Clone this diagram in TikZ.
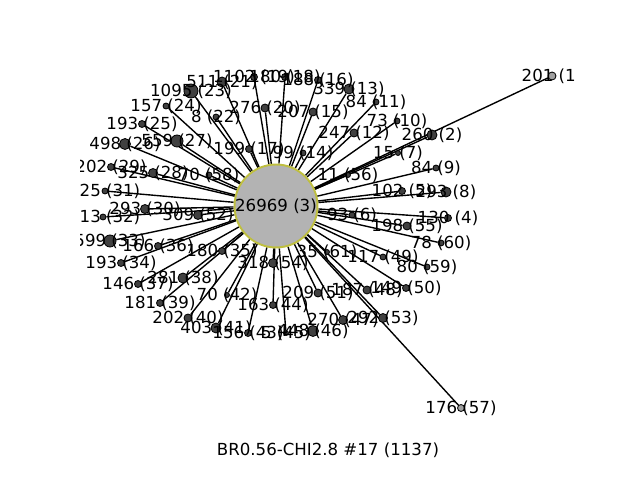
\documentclass[tikz,border=0pt]{standalone}
\usepackage{fontspec}
\setmainfont{DejaVu Sans}
\usetikzlibrary{backgrounds}
\definecolor{dotgray}{RGB}{64,64,64}
\definecolor{lightdotgray}{RGB}{160,160,160}
\definecolor{centerfill}{RGB}{179,179,179}
\definecolor{centeredge}{RGB}{191,191,64}
\begin{document}
\begin{tikzpicture}[x=0.01in,y=-0.01in,
  dot/.style={circle,draw=black,line width=0.6pt,fill=dotgray,inner sep=0pt},
  lightdot/.style={dot,fill=lightdotgray},
  hub/.style={circle,draw=centeredge,fill=centerfill,line width=1.4pt,inner sep=0pt,minimum size=82*0.7227pt,font=\fontsize{12}{14}\selectfont},
  lbl/.style={inner sep=0pt,font=\fontsize{12}{14}\selectfont},
  edge/.style={draw=black,line width=1pt}]
\useasboundingbox (0,0) rectangle (640,480);
\node[hub] (c) at (276,206) {26969 (3)};
\node[lightdot,minimum size=4*1.4454pt] (n1) at (552,76) {};
\node[lightdot,minimum size=3.5*1.4454pt] (n57) at (461,408) {};
\foreach \i/\x/\y/\r in {2/432/135/5, 4/448/218/3.5, 5/402/191/3.5, 6/352/215/3, 7/398/153/2.5,
  8/446/192/5, 9/436/168/3, 10/397/121/3, 11/376/102/3, 12/354/133/4, 13/349/89/5,
  14/303/153/3, 15/313/112/4, 16/318/80/3.5, 17/249/149/3.5, 18/285/77/3.5, 19/254/77/3.5,
  20/265/108/4, 21/222/82/5, 22/216/117/3, 23/191/91/7, 24/166/106/3, 25/142/124/3.5,
  26/125/144/5.5, 27/177/141/6, 28/153/173/4.5, 29/111/167/3.5, 30/145/209/4.5,
  31/105/191/3, 32/103/217/3, 33/110/241/6, 34/121/263/3.5, 35/222/251/3.5, 36/158/246/3.5,
  37/138/284/3.5, 38/183/278/5, 39/160/303/3.5, 40/188/318/4, 41/216/328/5, 42/227/295/2.5,
  43/248/333/3.5, 44/273/305/3.5, 45/286/333/2.5, 46/313/331/5.5, 47/343/320/4.5,
  48/367/290/4, 49/383/257/3, 50/406/288/3.5, 51/318/293/4, 52/198/215/4.5, 53/383/318/4.5,
  54/273/263/4.5, 55/407/226/4, 56/348/175/2.5, 58/209/175/3, 59/427/267/3, 60/441/243/3,
  61/327/252/2.5}
  {\node[dot,minimum size=\r*1.4454pt] (n\i) at (\x,\y) {};}
\begin{pgfonlayer}{background}
\foreach \i in {1,2,4,5,6,7,8,9,10,11,12,13,14,15,16,17,18,19,20,21,22,23,24,25,26,27,28,29,30,
  31,32,33,34,35,36,37,38,39,40,41,42,43,44,45,46,47,48,49,50,51,52,53,54,55,56,57,58,59,60,61}
  {\draw[edge] (c) -- (n\i);}
\end{pgfonlayer}
\begin{scope}
\clip (80,57.6) rectangle (576,427.2);
\foreach \i/\x/\y/\s in {1/552/76/{201 (1)}, 2/432/135/{260 (2)}, 4/448/218/{130 (4)}, 5/402/191/{102 (5)},
  6/352/215/{93 (6)}, 7/398/153/{15 (7)}, 8/446/192/{293 (8)}, 9/436/168/{84 (9)},
  10/397/121/{73 (10)}, 11/376/102/{84 (11)}, 12/354/133/{247 (12)}, 13/349/89/{339 (13)},
  14/303/153/{99 (14)}, 15/313/112/{207 (15)}, 16/318/80/{188 (16)}, 17/249/149/{199 (17)},
  18/285/77/{180 (18)}, 19/254/77/{1102 (19)}, 20/265/108/{276 (20)}, 21/222/82/{511 (21)},
  22/216/117/{8 (22)}, 23/191/91/{1095 (23)}, 24/166/106/{157 (24)}, 25/142/124/{193 (25)},
  26/125/144/{498 (26)}, 27/177/141/{559 (27)}, 28/153/173/{325 (28)}, 29/111/167/{202 (29)},
  30/145/209/{293 (30)}, 31/110/191/{25 (31)}, 32/110/217/{13 (32)}, 33/110/241/{599 (33)},
  34/121/263/{193 (34)}, 35/222/251/{180 (35)}, 36/158/246/{166 (36)}, 37/138/284/{146 (37)},
  38/183/278/{281 (38)}, 39/160/303/{181 (39)}, 40/188/318/{202 (40)}, 41/216/328/{403 (41)},
  42/227/295/{70 (42)}, 43/248/333/{156 (43)}, 44/273/305/{163 (44)}, 45/286/333/{5 (45)},
  46/313/331/{448 (46)}, 47/343/320/{270 (47)}, 48/367/290/{187 (48)}, 49/383/257/{117 (49)},
  50/406/288/{149 (50)}, 51/318/293/{209 (51)}, 52/198/215/{309 (52)}, 53/383/318/{292 (53)},
  54/273/263/{318 (54)}, 55/407/226/{198 (55)}, 56/348/175/{11 (56)}, 57/461/408/{176 (57)},
  58/209/175/{70 (58)}, 59/427/267/{80 (59)}, 60/441/243/{78 (60)}, 61/327/252/{35 (61)}}
  {\node[lbl] (t\i) at (\x,\y) {\s};}
\end{scope}
\node[lbl] (title) at (328,450) {BR0.56-CHI2.8 \#17 (1137)};
\end{tikzpicture}
\end{document}
